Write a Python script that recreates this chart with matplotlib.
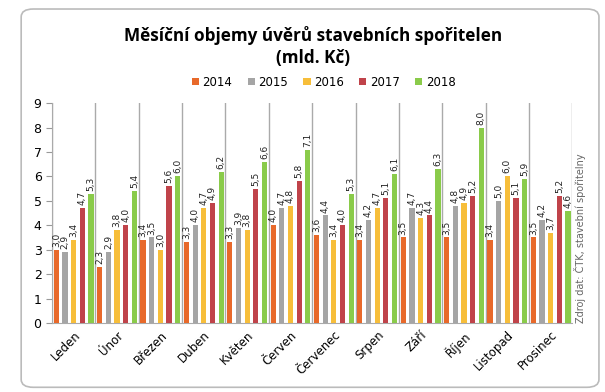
import numpy as np
import matplotlib.pyplot as plt
from matplotlib.patches import FancyBboxPatch

mesice = ['Leden', 'Únor', 'Březen', 'Duben', 'Květen', 'Červen', 'Červenec',
          'Srpen', 'Září', 'Říjen', 'Listopad', 'Prosinec']
roky = ['2014', '2015', '2016', '2017', '2018']
v2014 = [3.0, 2.3, 3.4, 3.3, 3.3, 4.0, 3.6, 3.4, 3.5, 3.5, 3.4, 3.5]
v2015 = [2.9, 2.9, 3.5, 4.0, 3.9, 4.7, 4.4, 4.2, 4.7, 4.8, 5.0, 4.2]
v2016 = [3.4, 3.8, 3.0, 4.7, 3.8, 4.8, 3.4, 4.7, 4.3, 4.9, 6.0, 3.7]
v2017 = [4.7, 4.0, 5.6, 4.9, 5.5, 5.8, 4.0, 5.1, 4.4, 5.2, 5.1, 5.2]
v2018 = [5.3, 5.4, 6.0, 6.2, 6.6, 7.1, 5.3, 6.1, 6.3, 8.0, 5.9, 4.6]
barvy = ['#E8692A', '#A5A5A5', '#F7BE3A', '#C0434A', '#8ACB4A']

fig = plt.figure(figsize=(6.05, 3.92), dpi=100)
ax = fig.add_axes([0.086, 0.176, 0.86, 0.561])

# ramecek kolem celeho grafu
ramecek = FancyBboxPatch((0.035, 0.012), 0.955, 0.965, boxstyle='round,pad=0,rounding_size=0.02',
                         transform=fig.transFigure, facecolor='none', edgecolor='#BBBBBB', lw=1.2)
fig.patches.append(ramecek)

x = np.arange(len(mesice))
krok = 0.2
sirka = 0.12
for i, (rok, hodnoty) in enumerate(zip(roky, [v2014, v2015, v2016, v2017, v2018])):
    pos = x + (i - 2) * krok
    ax.bar(pos, hodnoty, width=sirka, color=barvy[i], label=rok, zorder=3)
    for px, h in zip(pos, hodnoty):
        ax.text(px, h + 0.12, f'{h:.1f}'.replace('.', ','), rotation=90,
                ha='center', va='bottom', fontsize=6.5, color='#222222')

ax.set_xlim(-0.5, len(mesice) - 0.5)
ax.set_ylim(0, 9)
ax.set_yticks(range(10))
ax.tick_params(axis='y', labelsize=9, length=4, color='#999999')
ax.set_xticks(x)
ax.set_xticklabels(mesice, rotation=45, ha='right', rotation_mode='anchor', fontsize=8.5)
ax.tick_params(axis='x', length=0, pad=4)
for b in np.arange(-0.5, len(mesice), 1.0):
    ax.axvline(b, color='#AAAAAA', lw=1, zorder=1)
for s in ['top', 'right']:
    ax.spines[s].set_visible(False)
ax.spines['left'].set_color('#AAAAAA')
ax.spines['bottom'].set_color('#AAAAAA')

fig.text(0.517, 0.895, 'Měsíční objemy úvěrů stavebních spořitelen', ha='center',
         fontsize=12.3, fontweight='bold', family='Open Sans')
fig.text(0.517, 0.84, '(mld. Kč)', ha='center', fontsize=12.3, fontweight='bold', family='Open Sans')
fig.legend(loc='center', bbox_to_anchor=(0.535, 0.79), ncol=5, frameon=False, fontsize=8.5,
           handlelength=0.6, handleheight=0.6, handletextpad=0.3, columnspacing=1.3)
fig.text(0.958, 0.176, 'Zdroj dat: ČTK, stavební spořitelny', rotation=90, ha='center',
         va='bottom', fontsize=7, color='#666666')

fig.savefig('out.png', dpi=100)
